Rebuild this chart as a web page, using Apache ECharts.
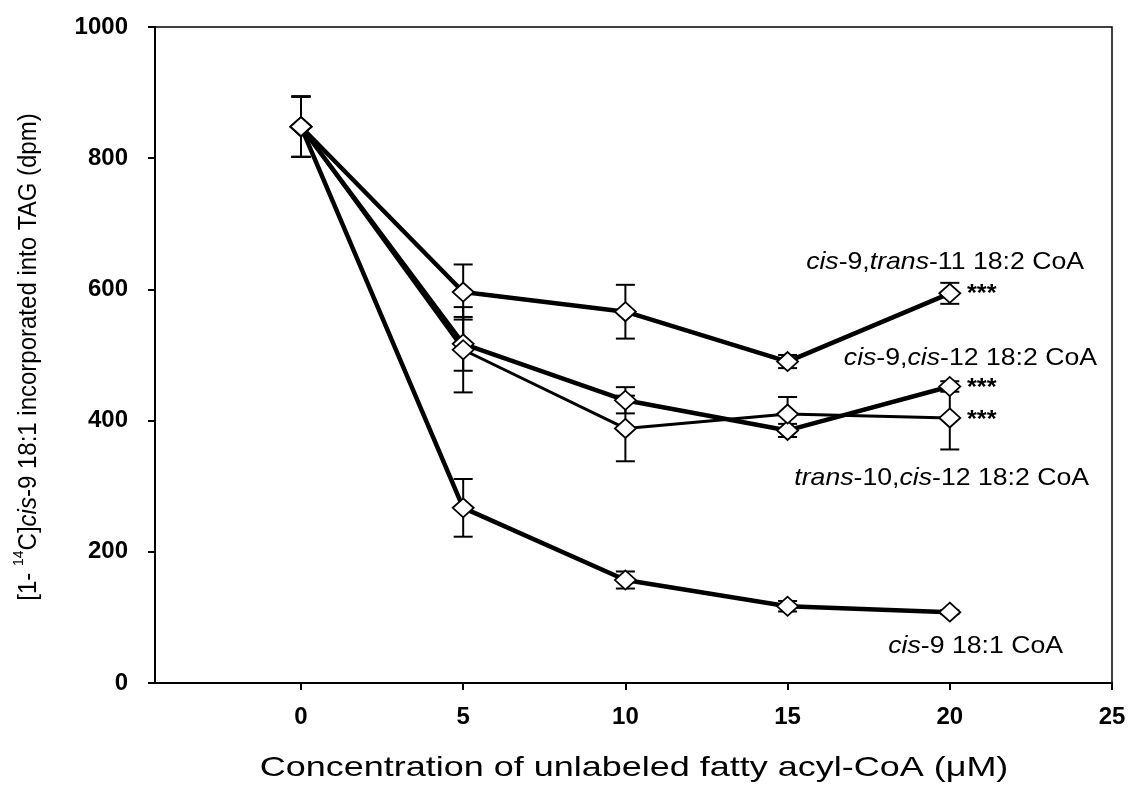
<!DOCTYPE html>
<html><head><meta charset="utf-8">
<script src="https://cdn.jsdelivr.net/npm/echarts@6/dist/echarts.min.js"></script>
<style>html,body{margin:0;padding:0;background:#fff}#c{width:1129px;height:799px}</style>
</head><body><div id="c"></div>
<script>
// ---- data ----
const xValues = [0, 5, 10, 15, 20];
const xTicks = [0, 5, 10, 15, 20, 25];
const yTicks = [0, 200, 400, 600, 800, 1000];
const ct11 = [848, 596, 566, 490, 594];      // cis-9,trans-11 18:2 CoA
const ct11Err = [46, 42, 41, 10, 16];
const cc12 = [848, 517, 431, 385, 452];      // cis-9,cis-12 18:2 CoA
const cc12Err = [46, 41, 20, 10, 8];
const tc12 = [848, 508, 388, 410, 404];      // trans-10,cis-12 18:2 CoA
const tc12Err = [46, 65, 50, 26, 48];
const c9 = [848, 267, 157, 117, 108];        // cis-9 18:1 CoA
const c9Err = [46, 44, 13, 8, 3];

const FONT = '"Liberation Sans", Arial, sans-serif';
const groups = [
  {vals: ct11, err: ct11Err, w: 4.5},
  {vals: cc12, err: cc12Err, w: 4.5},
  {vals: tc12, err: tc12Err, w: 3},
  {vals: c9, err: c9Err, w: 4.5}
];

function errRender(params, api) {
  const x = api.value(0), y = api.value(1), e = api.value(2);
  const t = api.coord([x, y + e]), b = api.coord([x, y - e]);
  const hw = 9.5, st = {stroke: '#000', lineWidth: 2};
  return {type: 'group', children: [
    {type: 'line', shape: {x1: t[0], y1: t[1], x2: b[0], y2: b[1]}, style: st},
    {type: 'line', shape: {x1: t[0] - hw, y1: t[1], x2: t[0] + hw, y2: t[1]}, style: st},
    {type: 'line', shape: {x1: b[0] - hw, y1: b[1], x2: b[0] + hw, y2: b[1]}, style: st}
  ]};
}

const series = [];
groups.forEach(g => {
  const pts = xValues.map((x, i) => [x, g.vals[i]]);
  series.push({type: 'line', data: pts, symbol: 'none', z: 2, animation: false,
    lineStyle: {color: '#000', width: g.w}});
  series.push({type: 'custom', data: xValues.map((x, i) => [x, g.vals[i], g.err[i]]),
    renderItem: errRender, z: 3, animation: false});
});
groups.forEach(g => {
  series.push({type: 'scatter', data: xValues.map((x, i) => [x, g.vals[i]]), z: 4, animation: false,
    symbol: 'diamond', symbolSize: [21, 19],
    itemStyle: {color: '#fff', borderColor: '#000', borderWidth: 1.8, opacity: 1}});
});

const AF = 24;
const italic = {i: {fontStyle: 'italic', fontSize: AF, fontFamily: FONT, fill: '#000'}};
function txt(x, y, text, align, sx, fs, fw) {
  return {type: 'text', x: x, y: y, z: 10, silent: true, scaleX: sx || 1.11,
    style: {text: text, rich: italic, fontSize: fs || AF, fontWeight: fw || 'normal', fontFamily: FONT, fill: '#000',
      textAlign: align || 'left', textVerticalAlign: 'middle'}};
}

const chart = echarts.init(document.getElementById('c'), null, {renderer: 'canvas'});
chart.setOption({
  backgroundColor: '#fff',
  animation: false,
  grid: {left: 155, right: 17, top: 27, bottom: 116, show: true, borderColor: '#000', borderWidth: 1.5},
  xAxis: {type: 'value', min: -4.5, max: 25, splitLine: {show: false},
    axisLine: {show: true, onZero: false, lineStyle: {color: '#000', width: 2}},
    axisTick: {show: true, customValues: xTicks, length: 7, lineStyle: {color: '#000', width: 2}},
    axisLabel: {customValues: xTicks, color: '#000', fontSize: 24, fontWeight: 'bold', fontFamily: FONT, margin: 22}},
  yAxis: {type: 'value', min: 0, max: 1000, interval: 200, splitLine: {show: false},
    axisLine: {show: true, onZero: false, lineStyle: {color: '#000', width: 2}},
    axisTick: {show: true, length: 7, lineStyle: {color: '#000', width: 2}},
    axisLabel: {color: '#000', fontSize: 24, fontWeight: 'bold', fontFamily: FONT, margin: 27,
      formatter: v => String(v)}},
  series: series,
  graphic: [
    txt(1084, 262, '{i|cis}-9,{i|trans}-11 18:2 CoA', 'right'),
    txt(1097, 358, '{i|cis}-9,{i|cis}-12 18:2 CoA', 'right'),
    txt(1089, 478, '{i|trans}-10,{i|cis}-12 18:2 CoA', 'right'),
    txt(1063, 646, '{i|cis}-9 18:1 CoA', 'right'),
    txt(967, 295, '***', 'left', 1.1, 23, 'bold'),
    txt(967, 389, '***', 'left', 1.1, 23, 'bold'),
    txt(967, 421, '***', 'left', 1.1, 23, 'bold'),
    {type: 'text', x: 634, y: 768, z: 10, scaleX: 1.285, style: {text: 'Concentration of unlabeled fatty acyl-CoA (\u03bcM)',
      fontSize: 28, fontFamily: FONT, fill: '#000', textAlign: 'center', textVerticalAlign: 'middle'}},
    {type: 'text', x: 29, y: 357, rotation: Math.PI / 2, scaleY: 1.08, z: 10, style: {
      text: '[1- {s|14}C]{i|cis}-9 18:1 incorporated into TAG (dpm)',
      rich: {s: {fontSize: 14, fontFamily: FONT, fill: '#000', verticalAlign: 'top', lineHeight: 14},
             i: {fontStyle: 'italic', fontSize: 24, fontFamily: FONT, fill: '#000', lineHeight: 32}},
      fontSize: 24, lineHeight: 32, fontFamily: FONT, fill: '#000', textAlign: 'center', textVerticalAlign: 'middle'}}
  ]
});
</script></body></html>
